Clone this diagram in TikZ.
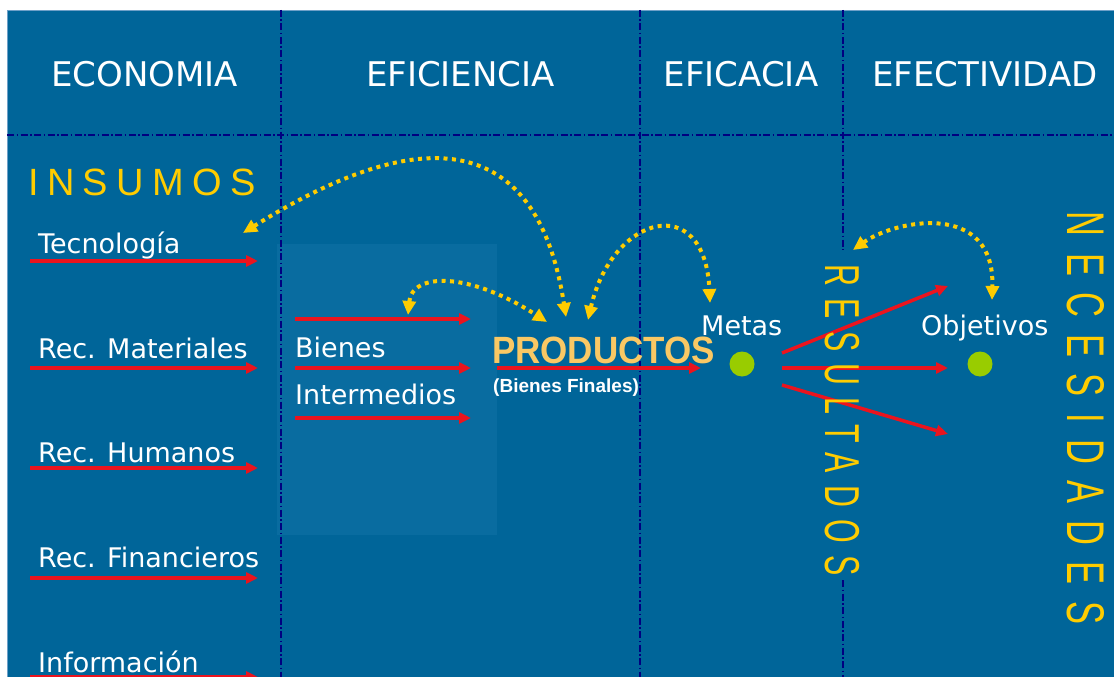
\documentclass[tikz,border=0pt]{standalone}
\usepackage{fontspec}
\setmainfont{DejaVu Sans}
\newfontfamily\arialfont{Liberation Sans}
\newfontfamily\prodfont[FakeStretch=0.92]{Liberation Sans}
\newfontfamily\insfont[LetterSpace=22]{Liberation Sans}
\newfontfamily\resfont[LetterSpace=40]{Liberation Sans}
\newfontfamily\necfont[LetterSpace=48]{Liberation Sans}
\usetikzlibrary{arrows.meta}
\definecolor{bgblue}{RGB}{0,101,153}
\definecolor{boxblue}{RGB}{9,108,160}
\definecolor{edgeblue}{RGB}{110,160,200}
\definecolor{gridnavy}{RGB}{0,0,128}
\definecolor{gold}{RGB}{255,204,0}
\definecolor{prodgold}{RGB}{250,200,100}
\definecolor{arrowred}{RGB}{235,20,30}
\definecolor{dotgreen}{RGB}{153,204,0}
\tikzset{
  gridline/.style={draw=gridnavy, line width=1.3pt, dash pattern=on 7pt off 2.5pt on 1.5pt off 2.5pt},
  redarrow/.style={draw=arrowred, line width=3.5pt, -{Triangle[length=12pt,width=11pt,fill=arrowred]}},
  goldlink/.style={draw=gold, line width=4pt, dash pattern=on 4pt off 4.5pt,
    {Triangle[length=14pt,width=13pt,fill=gold]}-{Triangle[length=14pt,width=13pt,fill=gold]}},
  head/.style={font=\fontsize{34}{40}\selectfont, text=white, inner sep=0pt, anchor=base},
  lab/.style={font=\fontsize{27}{32}\selectfont, text=white, inner sep=0pt, anchor=base west},
  greendot/.style={circle, fill=dotgreen, minimum size=25pt, inner sep=0pt},
}
\begin{document}
\begin{tikzpicture}[x=1pt,y=-1pt]
\useasboundingbox (0,0) rectangle (1114,677);
\fill[white] (0,0) rectangle (1114,677);
\fill[bgblue] (7,10) rectangle (1114,677);
\draw[edgeblue, line width=1pt] (7.5,677) -- (7.5,10.5) -- (1114,10.5);
% lighter box behind Bienes Intermedios
\fill[boxblue] (277,244) rectangle (497,535);
% grid
\draw[gridline] (281,10) -- (281,677);
\draw[gridline] (640,10) -- (640,677);
\draw[gridline] (843,10) -- (843,250);
\draw[gridline] (843,580) -- (843,677);
\draw[gridline] (7,135) -- (1114,135);
% headers
\node[head] (eco) at (144.5,87) {ECONOMIA};
\node[head] (efi) at (460.5,87) {EFICIENCIA};
\node[head] (efa) at (741,87) {EFICACIA};
\node[head] (efe) at (985,87) {EFECTIVIDAD};
% insumos
\node[anchor=base west, inner sep=0pt, text=gold, font=\insfont\fontsize{38}{40}\selectfont] (ins) at (28,195) {INSUMOS};
\node[lab] (tec) at (38,253) {Tecnología};
\node[lab] (mat) at (38,358) {Rec. Materiales};
\node[lab] (hum) at (38,462) {Rec. Humanos};
\node[lab] (fin) at (38,567) {Rec. Financieros};
\node[lab] (inf) at (38,672) {Información};
\foreach \n/\yy in {tec/261, mat/368, hum/468, fin/578, inf/677}{
  \coordinate (\n-s) at (30,\yy);
  \coordinate (\n-e) at (258,\yy);
  \draw[redarrow] (\n-s) -- (\n-e);
}
% bienes intermedios
\node[lab] (bie) at (295,357) {Bienes};
\node[lab] (int) at (295,404) {Intermedios};
\foreach \n/\yy in {b1/319, b2/368, b3/418}{
  \coordinate (\n-s) at (295,\yy);
  \coordinate (\n-e) at (471,\yy);
  \draw[redarrow] (\n-s) -- (\n-e);
}
% productos
\node[anchor=base west, inner sep=0pt, text=prodgold, font=\prodfont\bfseries\fontsize{38}{40}\selectfont] (prod) at (492,363) {PRODUCTOS};
\node[anchor=base west, inner sep=0pt, text=white, font=\arialfont\bfseries\fontsize{19}{22}\selectfont] (fin2) at (493,392) {(Bienes Finales)};
\coordinate (p-s) at (497,368);
\coordinate (p-e) at (701,368);
\draw[redarrow] (p-s) -- (p-e);
% metas / objetivos
\node[lab] (met) at (701,335) {Metas};
\node[lab] (obj) at (921,335) {Objetivos};
\node[greendot] (mdot) at (742,364) {};
\node[greendot] (odot) at (980,364) {};
\coordinate (r1-s) at (782,353); \coordinate (r1-e) at (948,286);
\coordinate (r2-s) at (782,368); \coordinate (r2-e) at (948,368);
\coordinate (r3-s) at (782,385); \coordinate (r3-e) at (948,434);
\draw[redarrow] (r1-s) -- (r1-e);
\draw[redarrow] (r2-s) -- (r2-e);
\draw[redarrow] (r3-s) -- (r3-e);
% vertical words
\node[rotate=-90, inner sep=0pt, text=gold, font=\resfont\fontsize{49}{50}\selectfont] (res) at (842,420) {\scalebox{0.62}[1]{RESULTADOS}};
\node[rotate=-90, inner sep=0pt, text=gold, font=\necfont\fontsize{53}{54}\selectfont] (nec) at (1086,418) {\scalebox{0.65}[1]{NECESIDADES}};
% dotted links
\coordinate (y1a) at (243,233); \coordinate (y1b) at (566,317);
\coordinate (y2a) at (408,315); \coordinate (y2b) at (547,322);
\coordinate (y3a) at (588,320); \coordinate (y3b) at (710,303);
\coordinate (y4a) at (853,250); \coordinate (y4b) at (992,300);
\draw[goldlink] (y1a) .. controls (360,160) and (530,85) .. (y1b);
\draw[goldlink] (y2a) .. controls (412,272) and (470,272) .. (y2b);
\draw[goldlink] (y3a) .. controls (612,215) and (705,190) .. (y3b);
\draw[goldlink] (y4a) .. controls (895,220) and (995,200) .. (y4b);
\end{tikzpicture}
\end{document}
